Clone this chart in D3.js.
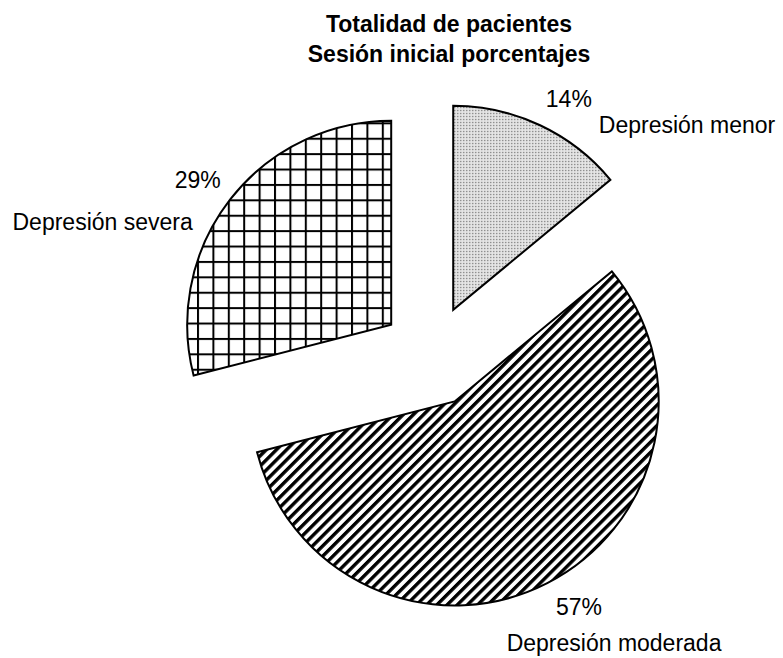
<!DOCTYPE html>
<html>
<head>
<meta charset="utf-8">
<script src="https://cdn.jsdelivr.net/npm/d3@7"></script>
<style>
  body { margin: 0; background: #fff; }
  text { font-family: "Liberation Sans", Arial, sans-serif; fill: #000; }
</style>
</head>
<body>
<svg id="plot"></svg>
<script>
const width = 783;
const height = 658;

// data
const categories = ['Depresión menor', 'Depresión moderada', 'Depresión severa'];
const values = [14, 57, 29];
const percentLabels = ['14%', '57%', '29%'];
const titleLines = ['Totalidad de pacientes', 'Sesión inicial porcentajes'];

// layout
const cx = 431.5, cy = 356;
const radius = 204;
const explode = 51;
const labelRadius = 241;
const fills = ['url(#dots)', 'url(#stripes)', 'url(#grid)'];
// nudges for the percentage labels, and where the category name sits from it
const pctNudge = [[13, 7], [15, -9], [-3, 3]];
const nameShift = [
  {dx: 30, dy: 34, anchor: 'start'},
  {dx: 35, dy: 44, anchor: 'middle'},
  {dx: -5, dy: 50, anchor: 'end'}
];

let svg;

function main(){
  svg = d3.select('svg#plot')
  .attr('width', width)
  .attr('height', height);

  initPatterns();
  drawTitle();
  drawPie();
}

function initPatterns(){
  const defs = svg.append('defs');

  // fine dots
  const dots = defs.append('pattern')
  .attr('id', 'dots')
  .attr('patternUnits', 'userSpaceOnUse')
  .attr('width', 3)
  .attr('height', 3);
  dots.append('rect').attr('width', 3).attr('height', 3).attr('fill', '#e6e6e6');
  dots.append('rect').attr('x', 1).attr('y', 1).attr('width', 1.2).attr('height', 1.2).attr('fill', '#6a6a6a');

  // upward diagonal stripes
  const stripes = defs.append('pattern')
  .attr('id', 'stripes')
  .attr('patternUnits', 'userSpaceOnUse')
  .attr('width', 7.2)
  .attr('height', 7.2)
  .attr('patternTransform', 'rotate(45)');
  stripes.append('rect').attr('width', 7.2).attr('height', 7.2).attr('fill', '#fff');
  stripes.append('rect').attr('width', 3.4).attr('height', 7.2).attr('fill', '#000');

  // large grid
  const grid = defs.append('pattern')
  .attr('id', 'grid')
  .attr('patternUnits', 'userSpaceOnUse')
  .attr('width', 15.4)
  .attr('height', 15.4)
  .attr('x', 391)
  .attr('y', 121);
  grid.append('rect').attr('width', 15.4).attr('height', 15.4).attr('fill', '#fff');
  grid.append('rect').attr('width', 2).attr('height', 15.4).attr('fill', '#000');
  grid.append('rect').attr('width', 15.4).attr('height', 2).attr('fill', '#000');
}

function drawTitle(){
  svg.append('text')
  .attr('x', 449)
  .attr('y', 32)
  .attr('text-anchor', 'middle')
  .style('font-size', '23px')
  .style('font-weight', 'bold')
  .selectAll('tspan')
  .data(titleLines)
  .enter()
  .append('tspan')
  .attr('x', 449)
  .attr('dy', (d,i)=>i==0 ? 0 : 30)
  .text(d=>d);
}

function drawPie(){
  const pie = d3.pie().sort(null).value(d=>d);
  const arcs = pie(values);
  const arc = d3.arc().innerRadius(0).outerRadius(radius);

  const g = svg.append('g')
  .attr('transform', `translate(${cx},${cy})`);

  const slices = g.selectAll('.slice')
  .data(arcs)
  .enter()
  .append('g')
  .attr('class', 'slice')
  .attr('transform', d=>{
    const a = (d.startAngle + d.endAngle)/2;
    return `translate(${explode*Math.sin(a)},${-explode*Math.cos(a)})`;
  });

  slices.append('path')
  .attr('d', arc)
  .attr('fill', (d,i)=>fills[i])
  .attr('stroke', '#000')
  .attr('stroke-width', 2)
  .attr('stroke-linejoin', 'miter');

  slices.each(function(d,i){
    const a = (d.startAngle + d.endAngle)/2;
    const px = labelRadius*Math.sin(a) + pctNudge[i][0];
    const py = -labelRadius*Math.cos(a) + pctNudge[i][1];
    const s = d3.select(this);

    s.append('text')
    .attr('x', px)
    .attr('y', py)
    .attr('dy', '0.36em')
    .attr('text-anchor', 'middle')
    .style('font-size', '23px')
    .text(percentLabels[i]);

    s.append('text')
    .attr('x', px + nameShift[i].dx)
    .attr('y', py + nameShift[i].dy)
    .attr('text-anchor', nameShift[i].anchor)
    .style('font-size', '23px')
    .text(categories[i]);
  });
}

document.addEventListener('DOMContentLoaded', main);
</script>
</body>
</html>
